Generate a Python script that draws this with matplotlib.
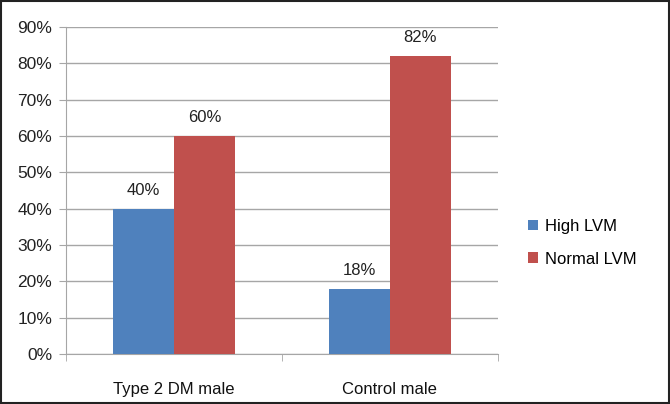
import numpy as np
import matplotlib
matplotlib.use("Agg")
import matplotlib.pyplot as plt
from matplotlib.patches import Rectangle

categories = ["Type 2 DM male", "Control male"]
high_lvm = [40, 18]
normal_lvm = [60, 82]
series_names = ["High LVM", "Normal LVM"]
colors = ["#4F81BD", "#C0504D"]

plt.rcParams["font.family"] = ["Liberation Sans", "DejaVu Sans"]

fig = plt.figure(figsize=(6.7, 4.04), dpi=100)
ax = fig.add_axes([0.0985, 0.124, 0.6445, 0.809])

x = np.arange(len(categories))
w = 0.283
grid_c = "#a6a6a6"

for i, (vals, name, c) in enumerate(zip([high_lvm, normal_lvm], series_names, colors)):
    pos = x + (i - 0.5) * w
    ax.bar(pos, vals, width=w, color=c, label=name, zorder=3)
    for p, v in zip(pos, vals):
        ax.text(p, v + 3.0, f"{v}%", ha="center", va="bottom", fontsize=12, color="#222222")

ax.set_xlim(-0.5, 1.5)
ax.set_ylim(0, 90)
ax.set_yticks(range(0, 91, 10))
ax.set_yticklabels([f"{t}%" for t in range(0, 91, 10)], fontsize=12.5, color="#222222")
ax.yaxis.grid(True, color=grid_c, linewidth=1.0, zorder=0)
ax.tick_params(axis="y", length=5, color=grid_c, pad=5)

ax.set_xticks(x)
ax.set_xticklabels(categories, fontsize=12, color="#111111")
ax.tick_params(axis="x", which="major", length=0, pad=20)
ax.set_xticks([-0.5, 0.5, 1.5], minor=True)
ax.tick_params(axis="x", which="minor", length=5, color=grid_c)

for s in ["top", "right"]:
    ax.spines[s].set_visible(False)
for s in ["left", "bottom"]:
    ax.spines[s].set_color(grid_c)

ax.legend(loc="center left", bbox_to_anchor=(1.035, 0.34), frameon=False,
          fontsize=12, handlelength=0.6, handleheight=0.6, labelspacing=1.05,
          handletextpad=0.4)

fig.patches.append(Rectangle((0.0015, 0.0025), 0.997, 0.995, transform=fig.transFigure,
                             fill=False, edgecolor="#222222", linewidth=1.5))

fig.savefig("out.png", dpi=100)
